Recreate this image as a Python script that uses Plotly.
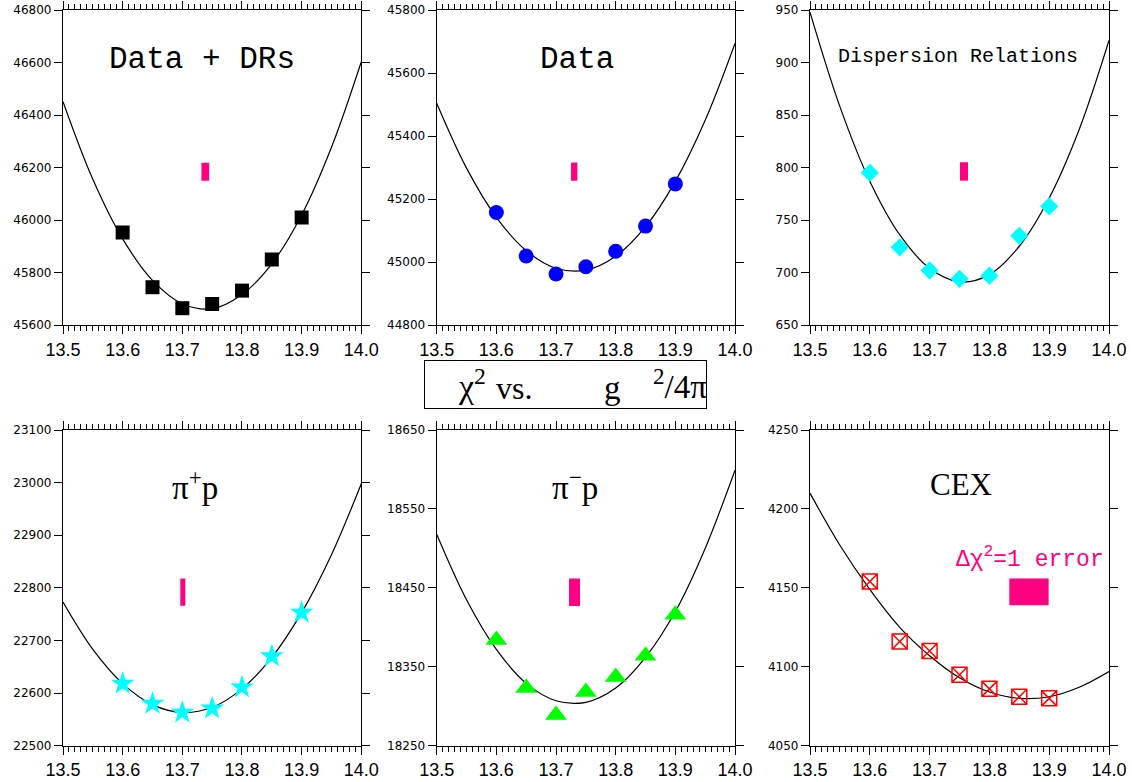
import plotly.graph_objects as go

# ---------------- data ----------------
g_curve = [13.5, 13.55, 13.6, 13.65, 13.7, 13.75, 13.8, 13.85, 13.9, 13.95, 14.0]
g_points = [13.6, 13.65, 13.7, 13.75, 13.8, 13.85, 13.9]

all_points = [45952, 45744, 45664, 45680, 45731, 45850, 46010]
all_curve = [46451, 46155, 45928, 45770, 45681, 45662, 45716, 45833, 46019, 46277, 46603]

data_points = [45157, 45019, 44962, 44985, 45034, 45114, 45248]
data_curve = [45504, 45298, 45142, 45036, 44980, 44974, 45018, 45112, 45256, 45450, 45694]

dr_points = [795, 724, 702, 694, 697, 735, 763]
dr_curve = [948, 858, 787, 736, 704, 691, 698, 725, 771, 836, 921]

pip_points = [22618, 22580, 22563, 22571, 22611, 22670, 22753]
pip_curve = [22773, 22683, 22618, 22578, 22563, 22573, 22608, 22668, 22753, 22863, 22998]

pim_points = [18384, 18323, 18289, 18318, 18337, 18364, 18416]
pim_curve = [18518, 18435, 18372, 18329, 18307, 18305, 18323, 18362, 18420, 18500, 18599]

cex_points = [4154, 4116, 4110, 4095, 4086, 4081, 4080]
cex_curve = [4210, 4177, 4149, 4125, 4107, 4093, 4084, 4080, 4081, 4087, 4097]

# Delta chi^2 = 1 error boxes (g^2/4pi centre, full width, chi^2 low/high)
err_center = [13.7385, 13.7305, 13.7575, 13.7008, 13.731, 13.8662]
err_width = [0.013, 0.0106, 0.0134, 0.0084, 0.0184, 0.0658]
err_low = [46150, 45258, 787.5, 22766, 18427, 4139]
err_high = [46218, 45316, 805, 22818, 18462, 4156]

titles = ["Data + DRs", "Data", "Dispersion Relations",
          "π<sup>+</sup>p", "π<sup>−</sup>p", "CEX"]
y_ranges = [[45600, 46800], [44800, 45800], [650, 950],
            [22500, 23100], [18250, 18650], [4050, 4250]]
y_dticks = [200, 200, 50, 100, 100, 50]
x_tick_vals = [13.5, 13.6, 13.7, 13.8, 13.9, 14.0]
x_tick_text = ["13.5", "13.6", "13.7", "13.8", "13.9", "14.0"]

# ---------------- styling ----------------
W, H = 1132, 782
PINK = "#FF0080"
x_pix = [(63, 361.3), (436.7, 735), (810, 1109)]
y_pix = [(10, 325), (430, 745.7)]

points_list = [all_points, data_points, dr_points, pip_points, pim_points, cex_points]
curve_list = [all_curve, data_curve, dr_curve, pip_curve, pim_curve, cex_curve]
markers = [
    dict(symbol="square", size=14, color="black"),
    dict(symbol="circle", size=15, color="#0000FF"),
    dict(symbol="diamond", size=14, color="#00FFFF"),
    dict(symbol="star", size=18, color="#00FFFF"),
    dict(symbol="triangle-up", size=19, color="#00FF00"),
    dict(symbol="square-x-open", size=15, color="#FF0000", line=dict(width=1.5, color="#FF0000")),
]

fig = go.Figure()
layout = dict(width=W, height=H, margin=dict(l=0, r=0, t=0, b=0, autoexpand=False),
              paper_bgcolor="white", plot_bgcolor="white", showlegend=False,
              annotations=[])

for i in range(6):
    r, c = divmod(i, 3)
    n = "" if i == 0 else str(i + 1)
    xa, ya = "x" + n, "y" + n
    fig.add_trace(go.Scatter(x=g_curve, y=curve_list[i], mode="lines",
                             line=dict(color="black", width=1.2, shape="spline", smoothing=1.0),
                             xaxis=xa, yaxis=ya, hoverinfo="skip"))
    fig.add_trace(go.Scatter(x=g_points, y=points_list[i], mode="markers",
                             marker=markers[i], xaxis=xa, yaxis=ya))
    fig.add_trace(go.Bar(x=[err_center[i]], y=[err_high[i] - err_low[i]], base=[err_low[i]],
                         width=[err_width[i]], marker=dict(color=PINK, line=dict(width=0)),
                         xaxis=xa, yaxis=ya))
    x0, x1 = x_pix[c]
    y0, y1 = y_pix[r]
    layout["xaxis" + n] = dict(
        domain=[x0 / W, x1 / W], anchor=ya, range=[13.5, 14.0], automargin=False,
        tickvals=x_tick_vals, ticktext=x_tick_text,
        ticks="outside", ticklen=8, tickwidth=1, tickcolor="black",
        showline=True, linecolor="black", linewidth=1.2, mirror="ticks",
        minor=dict(dtick=0.01, tick0=13.5, ticks="outside", ticklen=5, tickwidth=1, tickcolor="black"),
        showgrid=False, zeroline=False,
        tickfont=dict(family="Liberation Sans, Arial", size=18, color="black"))
    layout["yaxis" + n] = dict(
        domain=[1 - y1 / H, 1 - y0 / H], anchor=xa, range=y_ranges[i], automargin=False,
        dtick=y_dticks[i], tick0=y_ranges[i][0],
        ticks="outside", ticklen=8, tickwidth=1, tickcolor="black",
        showline=True, linecolor="black", linewidth=1.2, mirror="ticks",
        showgrid=False, zeroline=False, tickformat="d",
        tickfont=dict(family="DejaVu Sans", size=12, color="black"))

ann = layout["annotations"]
mono = "Liberation Mono, DejaVu Sans Mono"
serif = "Liberation Serif, Times New Roman"
blk = "black"
ann.append(dict(text=titles[0], x=202 / W, y=1 - 60 / H, font=dict(family=mono, size=31, color=blk)))
ann.append(dict(text=titles[1], x=577 / W, y=1 - 60 / H, font=dict(family=mono, size=31, color=blk)))
ann.append(dict(text=titles[2], x=958 / W, y=1 - 56 / H, font=dict(family=mono, size=20, color=blk)))
ann.append(dict(text=titles[3], x=195 / W, y=1 - 485 / H, font=dict(family=serif, size=33, color=blk)))
ann.append(dict(text=titles[4], x=575 / W, y=1 - 485 / H, font=dict(family=serif, size=33, color=blk)))
ann.append(dict(text=titles[5], x=961 / W, y=1 - 484 / H, font=dict(family=serif, size=31, color=blk)))
# framed axis-description label in the middle
ann.append(dict(text=" ", x=565.5 / W, y=1 - 384.5 / H, width=279, height=45,
                bordercolor=blk, borderwidth=1, borderpad=1, font=dict(size=10)))
ann.append(dict(text="χ<sup>2</sup>", x=472 / W, y=1 - 384 / H, font=dict(family=serif, size=34, color=blk)))
ann.append(dict(text="vs.", x=514 / W, y=1 - 388 / H, font=dict(family=serif, size=32, color=blk)))
ann.append(dict(text="g", x=612 / W, y=1 - 388 / H, font=dict(family=serif, size=33, color=blk)))
ann.append(dict(text="<sup>2</sup>/4π", x=680 / W, y=1 - 384 / H, font=dict(family=serif, size=33, color=blk)))
ann.append(dict(text="Δχ<sup>2</sup>=1 error", x=1029.5 / W, y=1 - 558 / H,
                font=dict(family=mono, size=23, color=PINK)))
for a in ann:
    a.update(xref="paper", yref="paper", showarrow=False, xanchor="center", yanchor="middle")

fig.update_layout(**layout)
fig.write_html("out.html", config={"displayModeBar": False},
               post_script="document.body.style.margin='0';")
